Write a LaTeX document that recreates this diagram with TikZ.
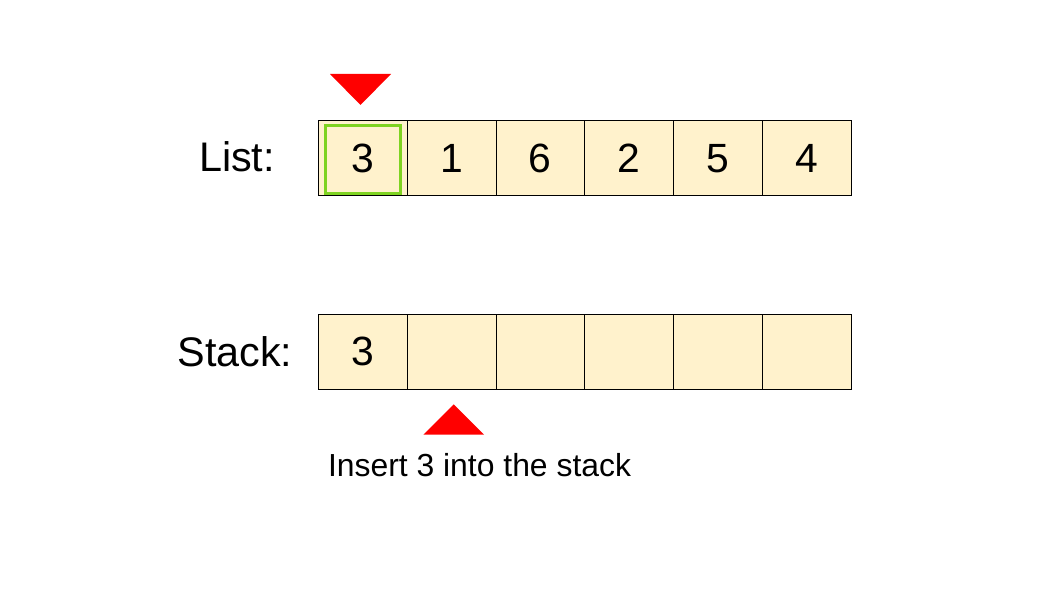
\documentclass[tikz,border=0pt]{standalone}
\usepackage{fontspec}
\setmainfont{Liberation Sans}
\definecolor{cellfill}{HTML}{FFF2CC}
\definecolor{hlgreen}{HTML}{7ED321}
\definecolor{ptrred}{HTML}{FF0000}
\begin{document}
\begin{tikzpicture}[x=1bp,y=-1bp,
  cell/.style={draw=black, line width=0.8bp, fill=cellfill, minimum width=88.8bp, minimum height=75bp, inner sep=0pt, font=\fontsize{41}{48}\selectfont},
  lbl/.style={inner sep=0pt, font=\fontsize{41.5}{48}\selectfont, anchor=base},
  captext/.style={inner sep=0pt, font=\fontsize{32}{38}\selectfont, anchor=base west},
  selbox/.style={draw=hlgreen, line width=3.3bp, minimum width=75.3bp, minimum height=67.4bp, inner sep=0pt}
]
\useasboundingbox (0,0) rectangle (1058,595);
% list row
\node[cell] (l1) at (362.7,158.2) {3};
\node[cell] (l2) at (451.5,158.2) {1};
\node[cell] (l3) at (540.3,158.2) {6};
\node[cell] (l4) at (629.0,158.2) {2};
\node[cell] (l5) at (717.8,158.2) {5};
\node[cell] (l6) at (806.6,158.2) {4};
% stack row
\node[cell] (s1) at (362.7,351.8) {3};
\node[cell] (s2) at (451.5,351.8) {};
\node[cell] (s3) at (540.3,351.8) {};
\node[cell] (s4) at (629.0,351.8) {};
\node[cell] (s5) at (717.8,351.8) {};
\node[cell] (s6) at (806.6,351.8) {};
% highlight
\node[selbox] (sel) at (363.1,159.5) {};
% labels
\node[lbl] (listlbl) at (237,172) {List:};
\node[lbl] (stacklbl) at (235,366) {Stack:};
\node[captext] (caption) at (327.8,476.7) {Insert 3 into the stack};
% pointers
\fill[ptrred] (330,74) -- (391,74) -- (360.5,105) -- cycle;
\fill[ptrred] (423.3,434.7) -- (484,434.7) -- (453.7,404.3) -- cycle;
\end{tikzpicture}
\end{document}
